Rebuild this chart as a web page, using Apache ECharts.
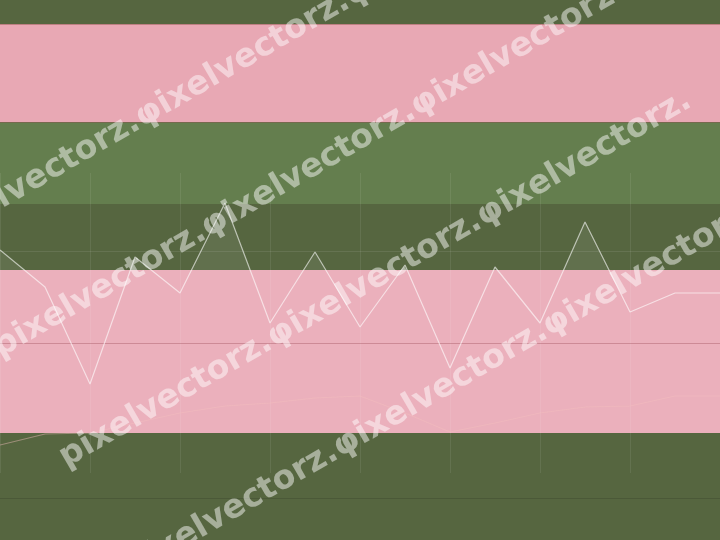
<!DOCTYPE html>
<html><head><meta charset="utf-8">
<script src="https://cdn.jsdelivr.net/npm/echarts@6/dist/echarts.min.js"></script>
<style>html,body{margin:0;padding:0;background:#566640}#c{width:720px;height:540px}</style>
</head><body><div id="c"></div>
<script>
const categories = ['1','2','3','4','5','6','7','8','9','10','11','12','13','14','15','16','17'];
const seriesA = [93, 56, -41, 86, 50, 140, 20, 91, 16, 78, -25, 76, 20, 121, 31, 50, 50];
const seriesB = [-102, -91, -90, -80, -70, -63, -60, -55, -53, -70, -89, -80, -70, -64, -63, -53, -53];
const bandRanges = [[24, 122], [122, 204], [270, 433]];
const ruleLines = [24, 122, 251, 498];
const watermark = 'pixelvectorz.\u03c6ixelvectorz.\u03c6ixelvectorz.';

const bandColors = ['#e8a8b4', '#647e4e', '#ebb0bc'];
const ruleColors = ['rgba(140,80,70,0.45)', 'rgba(140,80,80,0.45)', 'rgba(255,255,255,0.09)', 'rgba(0,0,0,0.12)'];
const rowStarts = [[-70, 240], [-4, 350], [62, 460], [128, 570]];

const chart = echarts.init(document.getElementById('c'), null, {renderer: 'canvas'});
chart.setOption({
  animation: false,
  backgroundColor: '#566640',
  grid: [
    {left: 0, right: 0, top: 0, bottom: 0},
    {left: 0, right: 0, top: 173, bottom: 67}
  ],
  xAxis: [
    {gridIndex: 0, type: 'value', min: 0, max: 720, show: false},
    {gridIndex: 1, type: 'category', data: categories, boundaryGap: false, z: 0,
     axisLine: {show: true, onZero: true, lineStyle: {color: 'rgba(150,70,80,0.35)', width: 1}},
     axisTick: {show: false}, axisLabel: {show: false},
     splitLine: {show: true, interval: function (i) { return i % 2 === 0; },
                 lineStyle: {color: 'rgba(255,255,255,0.08)', width: 1}}}
  ],
  yAxis: [
    {gridIndex: 0, type: 'value', min: 0, max: 540, inverse: true, show: false},
    {gridIndex: 1, type: 'value', min: -130, max: 170, show: false, splitLine: {show: false}}
  ],
  series: [
    {
      type: 'line', xAxisIndex: 0, yAxisIndex: 0, data: [], silent: true, z: -3,
      markArea: {silent: true, z: -3, data: bandRanges.slice(0, 2).map((r, i) => [
        {yAxis: r[0], itemStyle: {color: bandColors[i]}}, {yAxis: r[1]}])},
      markLine: {silent: true, z: 5, symbol: 'none', label: {show: false},
        data: ruleLines.map((v, i) => ({yAxis: v, lineStyle: {color: ruleColors[i], width: 1, type: 'solid'}}))}
    },
    {
      type: 'line', xAxisIndex: 1, yAxisIndex: 1, data: seriesA, showSymbol: false, z: -2, silent: true,
      lineStyle: {width: 0, opacity: 0},
      areaStyle: {color: 'rgba(255,255,255,0.1)'}
    },
    {
      type: 'line', xAxisIndex: 0, yAxisIndex: 0, data: [], silent: true, z: -1,
      markArea: {silent: true, z: -1, data: bandRanges.slice(2).map((r, i) => [
        {yAxis: r[0], itemStyle: {color: bandColors[2 + i]}}, {yAxis: r[1]}])}
    },
    {
      type: 'line', xAxisIndex: 1, yAxisIndex: 1, data: seriesA, showSymbol: false, z: 2,
      lineStyle: {color: 'rgba(255,255,255,0.6)', width: 1.2}
    },
    {
      type: 'line', xAxisIndex: 1, yAxisIndex: 1, data: seriesB, showSymbol: false, z: 2,
      lineStyle: {color: 'rgba(245,190,190,0.45)', width: 1.2}
    }
  ],
  graphic: rowStarts.map(p => ({
    type: 'text', x: p[0], y: p[1], rotation: Math.PI / 6, z: 100, silent: true,
    style: {
      text: watermark, fill: 'rgba(255,255,255,0.48)',
      font: 'bold 33px "DejaVu Sans"', align: 'left', verticalAlign: 'middle',
      textShadowColor: 'rgba(0,0,0,0.4)', textShadowOffsetX: 2, textShadowOffsetY: 2, textShadowBlur: 0
    }
  }))
});
</script></body></html>
